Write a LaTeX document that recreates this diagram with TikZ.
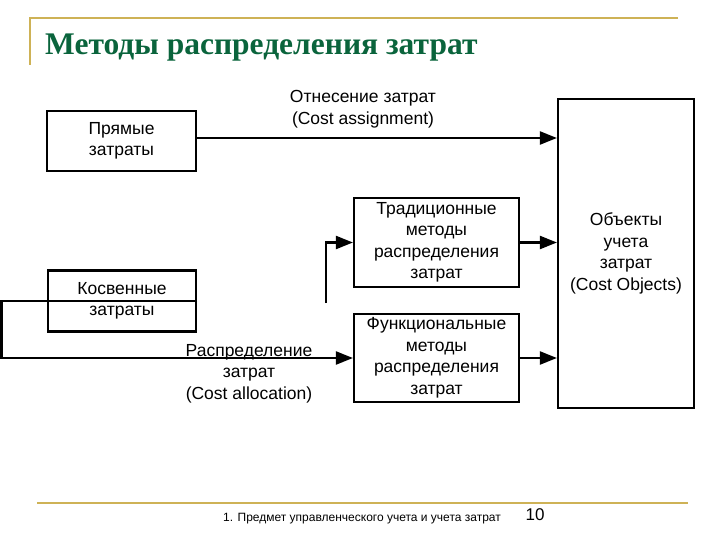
\documentclass[tikz,border=0pt]{standalone}
\usepackage{fontspec}
\setmainfont{Liberation Sans}
\newfontfamily\titlefont{Liberation Serif}
\usetikzlibrary{arrows.meta,positioning,calc}
\definecolor{gold}{RGB}{206,178,86}
\definecolor{titlegreen}{RGB}{10,100,60}
\tikzset{
  box/.style={draw=black, line width=2.2pt, fill=white, align=center, inner sep=0pt,
              font=\fontsize{17.5}{21.5}\selectfont},
  arr/.style={line width=2.2pt, -{Triangle[length=17pt,width=13pt]}},
  lbl/.style={align=center, font=\fontsize{17.5}{21.5}\selectfont, inner sep=0pt},
  deco/.style={draw=gold, line width=2.2pt}
}
\begin{document}
\begin{tikzpicture}[x=1pt,y=-1pt]
\useasboundingbox (0,0) rectangle (720,540);
% decoration
\coordinate (tl) at (30,18);
\coordinate (tr) at (678,18);
\coordinate (tb) at (30,65);
\draw[deco] (tr) -- (tl) -- (tb);
\coordinate (bl) at (37,503);
\coordinate (br2) at (688,503);
\draw[deco] (bl) -- (br2);
% title
\node[anchor=base west, inner sep=0pt, text=titlegreen, font=\titlefont\bfseries\fontsize{31.5}{36}\selectfont] (title) at (45,55) {Методы распределения затрат};
% footer
\node[anchor=west, inner sep=0pt, font=\fontsize{12}{14}\selectfont] (foot) at (223,519) {1. Предмет управленческого учета и учета затрат};
\node[inner sep=0pt, font=\fontsize{17}{20}\selectfont] (page) at (535,515) {10};
% boxes
\node[box, minimum width=149pt, minimum height=60pt] (pryam) at (121.5,141) {Прямые\\затраты};
\node[box, minimum width=148pt, minimum height=61pt] (kosv) at (122,301) {Косвенные\\затраты};
\node[box, minimum width=165pt, minimum height=89pt] (trad) at (436.5,242.5) {Традиционные\\методы\\распределения\\затрат};
\node[box, minimum width=165pt, minimum height=88pt] (func) at (436.5,358) {Функциональные\\методы\\распределения\\затрат};
\node[box, minimum width=136pt, minimum height=309pt] (obj) at (626,253.5) {Объекты\\учета\\затрат\\(Cost Objects)};
% labels
\node[lbl] (lassign) at (363,109) {Отнесение затрат\\(Cost assignment)};
% connectors
\draw[arr] ([yshift=3pt]pryam.east) -- ([yshift=3pt]obj.west |- pryam.east);
\draw[arr] (trad.east) -- (obj.west |- trad.east);
\draw[arr] (func.east) -- (obj.west |- func.east);
\coordinate (lft) at (1.5,358);
\draw[arr] (kosv.east) -- (kosv.east -| lft) -- (lft) -- (func.west);
\coordinate (brn) at (326,303);
\draw[arr] (brn) |- (trad.west);
\node[lbl] (lalloc) at (249,373.5) {Распределение\\затрат\\(Cost allocation)};
\end{tikzpicture}
\end{document}
